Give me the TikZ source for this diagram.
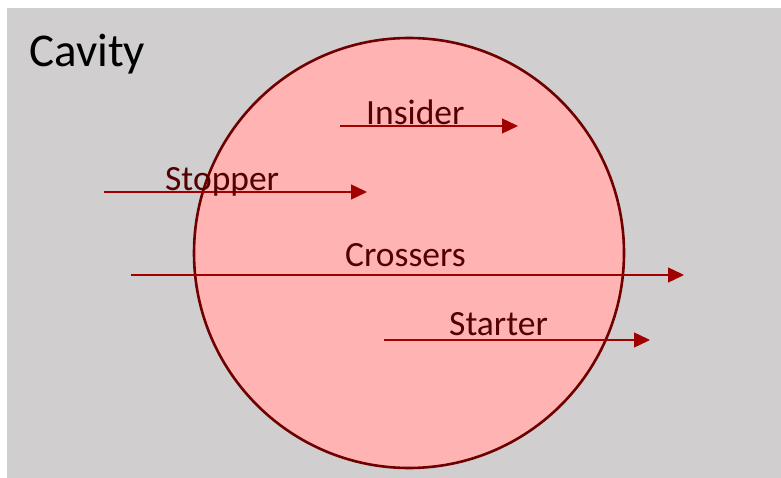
\documentclass[tikz,border=0pt]{standalone}
\usepackage{fontspec}
\setmainfont{Carlito}
\usepackage{tikz}
\usetikzlibrary{arrows.meta}
\usepackage{xcolor}
\definecolor{cavitygray}{RGB}{208,206,206}
\definecolor{blobfill}{RGB}{255,179,179}
\definecolor{blobline}{RGB}{110,0,0}
\definecolor{trackred}{RGB}{160,0,0}
\definecolor{labelred}{RGB}{85,0,0}

\begin{document}
\begin{tikzpicture}[
      x=1pt, y=-1pt,
      blob/.style={draw=blobline, line width=2.6pt, fill=blobfill, circle,
                   minimum size=430pt, inner sep=0pt},
      track/.style={draw=trackred, line width=1.3pt,
                    -{Triangle[length=16pt, width=15pt]}},
      lbl/.style={anchor=base west, inner sep=0pt, text=labelred,
                  font=\fontsize{35.5}{35.5}\selectfont}
    ]
    \useasboundingbox (0,0) rectangle (781,478);
    \fill[cavitygray] (7,8) rectangle (781,478);
    \node[anchor=base west, inner sep=0pt, font=\fontsize{47}{47}\selectfont] (cavity) at (29,67) {Cavity};
    \node[blob] (sphere) at (409,253) {};
    % tracks
    \coordinate (ins-a) at (340,126);
    \coordinate (ins-b) at (518,126);
    \coordinate (stp-a) at (104,192);
    \coordinate (stp-b) at (367,192);
    \coordinate (crs-a) at (131,275);
    \coordinate (crs-b) at (684,275);
    \coordinate (str-a) at (384,340);
    \coordinate (str-b) at (650,340);
    \draw[track] (ins-a) -- (ins-b);
    \draw[track] (stp-a) -- (stp-b);
    \draw[track] (crs-a) -- (crs-b);
    \draw[track] (str-a) -- (str-b);
    \node[lbl] (insider)  at (366,125) {Insider};
    \node[lbl] (stopper)  at (165,191) {Stopper};
    \node[lbl] (crossers) at (345,266) {Crossers};
    \node[lbl] (starter)  at (449,335) {Starter};
  \end{tikzpicture}
\end{document}
